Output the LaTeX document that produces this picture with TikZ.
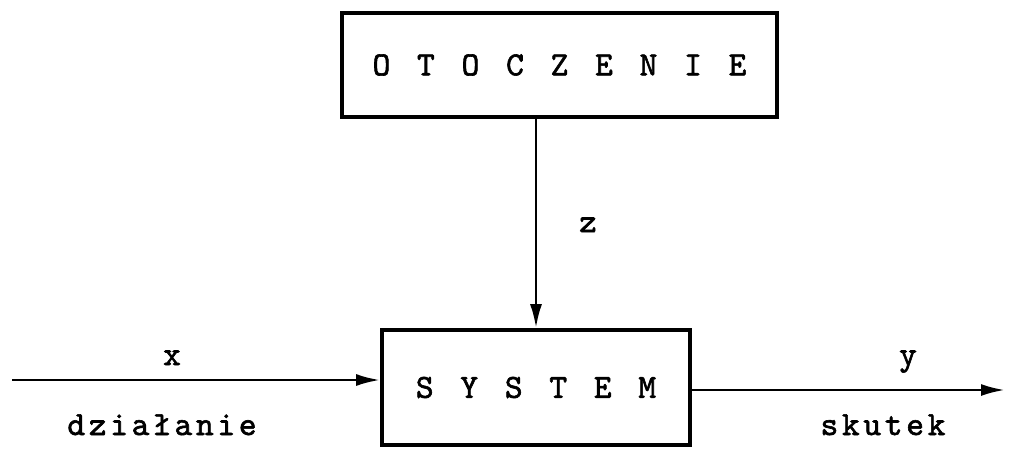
\documentclass[tikz,border=0pt]{standalone}
\usepackage{fontspec}
\newfontfamily\maszyna{lmmono10-regular.otf}[LetterSpace=11,FakeBold=1.8,WordSpace=1.25]
\usetikzlibrary{arrows.meta}

\tikzset{
  pismo/.style={font=\maszyna\fontsize{24}{28}\selectfont},
  blok/.style={draw, line width=2.6pt, inner sep=0pt, pismo},
  opis/.style={anchor=base, pismo},
  strz/.style={line width=2pt, -{Latex[length=0.6cm,width=0.3cm]}}
}

\begin{document}
\begin{tikzpicture}[x=0.025cm, y=-0.025cm]
  %% Frame
  \useasboundingbox (0,0) rectangle (1011,448);

  %% Blocks
  \node[blok, minimum width=10.875cm, minimum height=2.6cm]
    (otocz) at (559.5,65) {O T O C Z E N I E};
  \node[blok, minimum width=7.7cm, minimum height=2.875cm]
    (sys) at (536,387.5) {S Y S T E M};

  %% Input and output ends
  \coordinate (wej) at (12,380);
  \coordinate (wyj) at (1005,390);

  %% Connectors
  \draw[strz] (sys.north |- otocz.south) -- (sys.north);
  \draw[strz] (wej) -- (wej -| sys.west);
  \draw[strz] (wyj -| sys.east) -- (wyj);

  %% Labels
  \node[opis] (zlab) at (588,232) {z};
  \node[opis] (xlab) at (172,365) {x};
  \node[opis] (dzial) at (162,435) {działanie};
  \node[opis] (ylab) at (908,365) {y};
  \node[opis] (skut) at (883,435) {skutek};
\end{tikzpicture}
\end{document}
